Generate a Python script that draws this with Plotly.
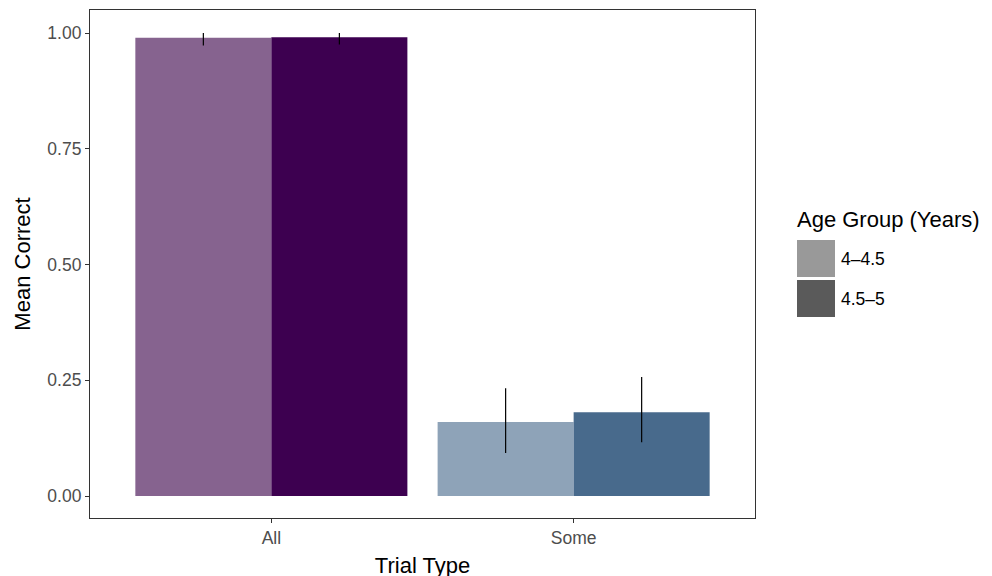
import plotly.graph_objects as go

categories = ["All", "Some"]
groups = ["4\u20134.5", "4.5\u20135"]
means_young = [0.990, 0.160]
means_old = [0.991, 0.181]
err_up_young = [0.010, 0.073]
err_dn_young = [0.017, 0.067]
err_up_old = [0.009, 0.076]
err_dn_old = [0.016, 0.065]
colors_young = ["#86638F", "#8EA3B8"]
colors_old = ["#3D0050", "#486A8C"]
legend_colors = ["#999999", "#5A5A5A"]

# page offset of the figure (default body margin)
OFF = 8
PL, PT, PW, PH = 90 - OFF, 10 - OFF, 665, 508  # plot area in figure px

fig = go.Figure()
fig.add_trace(go.Bar(
    x=categories, y=means_young, name=groups[0], showlegend=False,
    marker=dict(color=colors_young, line=dict(width=0)),
    error_y=dict(type="data", symmetric=False, array=err_up_young,
                 arrayminus=err_dn_young, color="black", thickness=1.2, width=0),
))
fig.add_trace(go.Bar(
    x=categories, y=means_old, name=groups[1], showlegend=False,
    marker=dict(color=colors_old, line=dict(width=0)),
    error_y=dict(type="data", symmetric=False, array=err_up_old,
                 arrayminus=err_dn_old, color="black", thickness=1.2, width=0),
))

font_family = "Liberation Sans, Arial, sans-serif"
fig.update_layout(
    width=992, height=576,
    margin=dict(l=PL, r=992 - PL - PW, t=PT, b=576 - PT - PH, autoexpand=False),
    plot_bgcolor="white", paper_bgcolor="white",
    barmode="group", bargap=0.1, bargroupgap=0,
    font=dict(family=font_family, color="black"),
    xaxis=dict(
        range=[-0.6, 1.6], showgrid=False, zeroline=False,
        showline=True, linecolor="#333333", linewidth=1.2, mirror=True,
        ticks="outside", ticklen=4, tickwidth=1.2, tickcolor="#333333",
        tickfont=dict(size=17.5, color="#4D4D4D", family=font_family),
        title=dict(text="Trial Type", font=dict(size=22, family=font_family), standoff=10),
    ),
    yaxis=dict(
        range=[-0.0475, 1.0497], showgrid=False, zeroline=False,
        showline=True, linecolor="#333333", linewidth=1.2, mirror=True,
        ticks="outside", ticklen=4, tickwidth=1.2, tickcolor="#333333",
        tickvals=[0, 0.25, 0.5, 0.75, 1.0],
        ticktext=["0.00", "0.25", "0.50", "0.75", "1.00"],
        tickfont=dict(size=17.5, color="#4D4D4D", family=font_family),
        title=dict(text="Mean Correct", font=dict(size=22, family=font_family), standoff=10),
    ),
)

# Manual legend (large key squares like ggplot2), positioned relative to plot area
def px(xp):
    return (xp - 90) / PW

def py(yp):
    return (518 - yp) / PH

fig.add_annotation(xref="paper", yref="paper", x=px(795), y=py(219),
                   text="Age Group (Years)", showarrow=False, xanchor="left", yanchor="middle",
                   font=dict(size=22, family=font_family, color="black"))
key_tops = [240, 280]
for i, (g, c) in enumerate(zip(groups, legend_colors)):
    top = key_tops[i]
    bottom = top + 37
    fig.add_shape(type="rect", xref="paper", yref="paper",
                  x0=px(797), x1=px(835), y0=py(bottom), y1=py(top),
                  fillcolor=c, line=dict(width=0))
    fig.add_annotation(xref="paper", yref="paper", x=px(839),
                       y=py((top + bottom) / 2),
                       text=g, showarrow=False, xanchor="left", yanchor="middle",
                       font=dict(size=17.5, family=font_family, color="black"))

fig.write_html("out.html")
